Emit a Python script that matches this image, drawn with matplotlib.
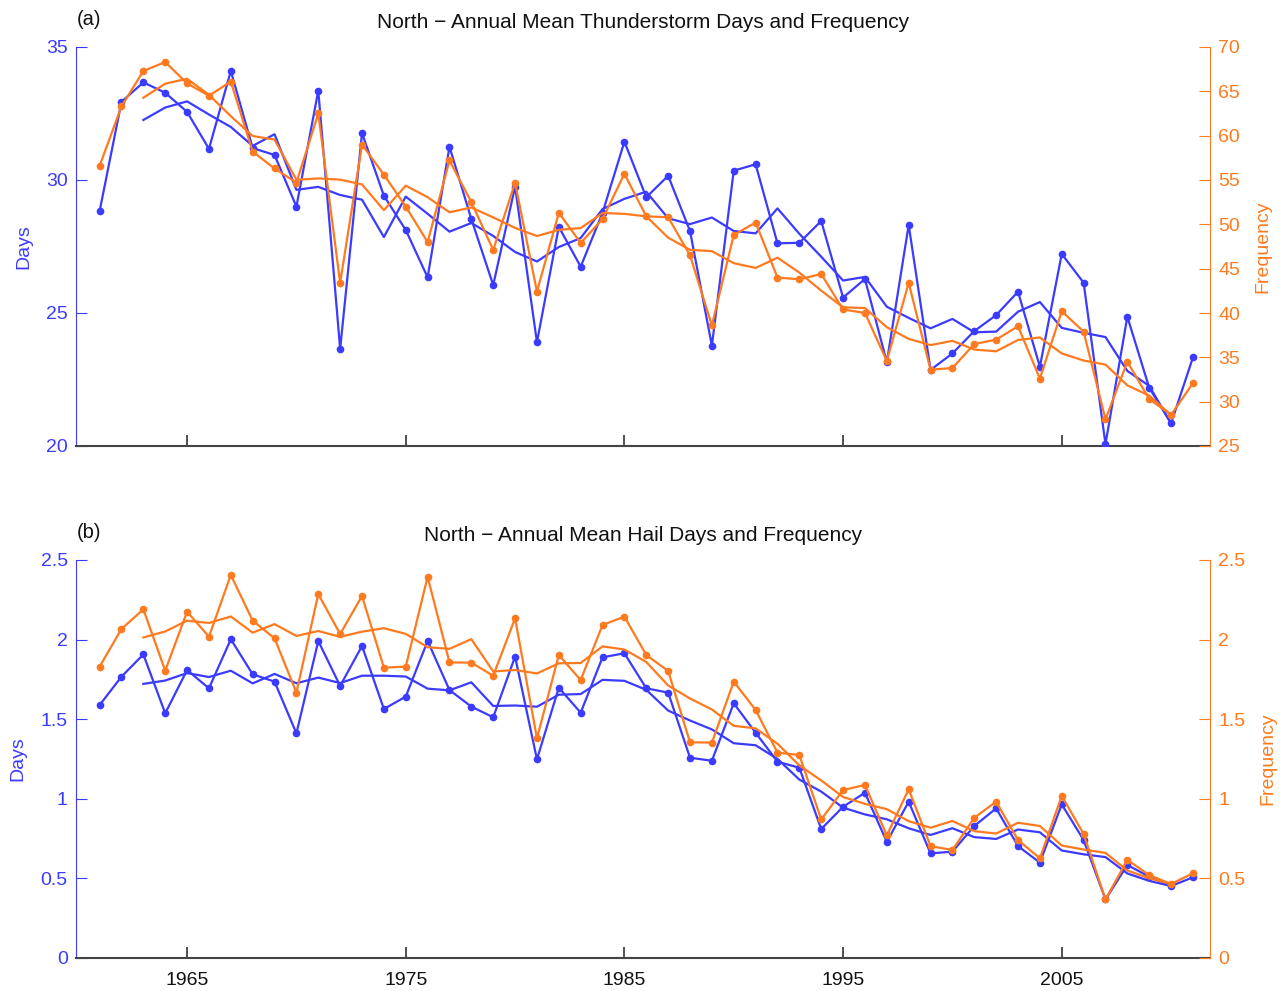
"""North annual mean thunderstorm / hail days and frequency."""

import matplotlib

matplotlib.use("Agg")
import matplotlib.pyplot as plt
import numpy as np
import pandas as pd

plt.rcParams["font.family"] = ["Liberation Sans", "DejaVu Sans"]

BLUE = "#3b3bff"
ORANGE = "#ff7a1f"

years = np.arange(1961, 2012)

thunder_days = [
    28.83, 32.94, 33.67, 33.28, 32.56, 31.17, 34.10, 31.20, 30.94, 29.00,
    33.36, 23.65, 31.76, 29.41, 28.12, 26.34, 31.25, 28.53, 26.05, 29.75,
    23.90, 28.24, 26.74, 28.77, 31.44, 29.35, 30.16, 28.08, 23.77, 30.35,
    30.59, 27.62, 27.64, 28.46, 25.58, 26.28, 23.15, 28.31, 22.86, 23.48,
    24.32, 24.92, 25.80, 22.98, 27.22, 26.14, 20.07, 24.86, 22.19, 20.85,
    23.33,
]
thunder_freq = [
    56.6, 63.3, 67.3, 68.3, 65.9, 64.5, 66.1, 58.2, 56.3, 54.7,
    62.5, 43.4, 59.0, 55.6, 52.0, 48.0, 57.2, 52.5, 47.1, 54.7,
    42.4, 51.3, 47.9, 50.6, 55.7, 50.9, 50.8, 46.5, 38.6, 48.8,
    50.2, 44.0, 43.8, 44.4, 40.4, 40.0, 34.6, 43.4, 33.6, 33.8,
    36.5, 37.0, 38.5, 32.6, 40.2, 37.9, 28.0, 34.5, 30.3, 28.5,
    32.1,
]
hail_days = [
    1.589, 1.767, 1.907, 1.537, 1.809, 1.694, 2.002, 1.782, 1.736, 1.411,
    1.991, 1.709, 1.960, 1.564, 1.642, 1.991, 1.683, 1.579, 1.512, 1.893,
    1.248, 1.698, 1.541, 1.889, 1.914, 1.694, 1.667, 1.258, 1.239, 1.600,
    1.415, 1.233, 1.195, 0.810, 0.950, 1.038, 0.729, 0.982, 0.657, 0.668,
    0.829, 0.940, 0.703, 0.599, 0.965, 0.741, 0.368, 0.584, 0.511, 0.452,
    0.507,
]
hail_freq = [
    1.830, 2.067, 2.190, 1.805, 2.175, 2.018, 2.406, 2.119, 2.008, 1.667,
    2.286, 2.035, 2.274, 1.824, 1.830, 2.395, 1.857, 1.855, 1.773, 2.134,
    1.380, 1.903, 1.746, 2.092, 2.144, 1.903, 1.803, 1.355, 1.353, 1.736,
    1.558, 1.290, 1.275, 0.870, 1.055, 1.087, 0.770, 1.060, 0.703, 0.678,
    0.881, 0.982, 0.741, 0.626, 1.018, 0.779, 0.368, 0.616, 0.521, 0.465,
    0.532,
]

x_ticks = [1965, 1975, 1985, 1995, 2005]


def smooth(values):
    # 5-year centred running mean, plotted 1963-2010 (last point = raw value)
    series = pd.Series(values, index=years, dtype=float)
    run = series.rolling(5, center=True).mean()
    run[2010] = series[2010]
    return run.loc[1963:2010]


def draw_panel(rect, left_vals, right_vals, left_lim, right_lim, left_ticks,
               right_ticks, left_labels, right_labels, title, tag, show_x):
    ax = fig.add_axes(rect)
    ax2 = ax.twinx()

    ax.plot(years, left_vals, color=BLUE, lw=1.6, marker="o", ms=4.5, zorder=3)
    sm = smooth(left_vals)
    ax.plot(sm.index, sm.values, color=BLUE, lw=1.6, zorder=3)

    ax2.plot(years, right_vals, color=ORANGE, lw=1.6, marker="o", ms=4.5)
    sm = smooth(right_vals)
    ax2.plot(sm.index, sm.values, color=ORANGE, lw=1.6)

    ax.set_xlim(1959.92, 2011.78)
    ax.set_ylim(*left_lim)
    ax2.set_ylim(*right_lim)
    ax.set_yticks(left_ticks)
    ax.set_yticklabels(left_labels)
    ax2.set_yticks(right_ticks)
    ax2.set_yticklabels(right_labels)
    ax.set_xticks(x_ticks)
    if show_x:
        ax.set_xticklabels([str(t) for t in x_ticks])
    else:
        ax.set_xticklabels([])

    for a in (ax, ax2):
        a.spines["top"].set_visible(False)
    ax.spines["right"].set_visible(False)
    ax2.spines["left"].set_visible(False)
    ax2.spines["bottom"].set_visible(False)
    ax.spines["left"].set_color(BLUE)
    ax2.spines["right"].set_color(ORANGE)
    ax.spines["bottom"].set_color("#444444")
    ax.spines["bottom"].set_linewidth(1.5)

    ax.tick_params(axis="y", direction="in", length=8, colors=BLUE,
                   labelsize=14, pad=6)
    ax2.tick_params(axis="y", direction="in", length=8, colors=ORANGE,
                    labelsize=14, pad=6)
    ax.tick_params(axis="x", direction="in", length=8, color="#333333",
                   labelsize=14, labelcolor="#111111", pad=10, width=1.2)

    ax.set_ylabel("Days", color=BLUE, fontsize=14, labelpad=10)
    ax2.set_ylabel("Frequency", color=ORANGE, fontsize=14, labelpad=10)
    ax.set_title(title, fontsize=15, color="#111111", pad=14)
    ax.text(0.001, 1.045, tag, transform=ax.transAxes, fontsize=14.5,
            color="#111111", va="bottom", ha="left")
    return ax, ax2


fig = plt.figure(figsize=(12.84, 9.91), dpi=100)

draw_panel(
    [76 / 1284, 1 - 446 / 991, 1134 / 1284, 399 / 991],
    thunder_days, thunder_freq,
    (20, 35), (25, 70),
    [20, 25, 30, 35], list(range(25, 71, 5)),
    ["20", "25", "30", "35"], [str(v) for v in range(25, 71, 5)],
    "North \u2212 Annual Mean Thunderstorm Days and Frequency", "(a)", False,
)

hail_ticks = [0, 0.5, 1, 1.5, 2, 2.5]
hail_labels = ["0", "0.5", "1", "1.5", "2", "2.5"]
draw_panel(
    [76 / 1284, 1 - 958 / 991, 1134 / 1284, 398 / 991],
    hail_days, hail_freq,
    (0, 2.5), (0, 2.5),
    hail_ticks, hail_ticks, hail_labels, hail_labels,
    "North \u2212 Annual Mean Hail Days and Frequency", "(b)", True,
)

fig.savefig("out.png", dpi=100)
plt.close(fig)
